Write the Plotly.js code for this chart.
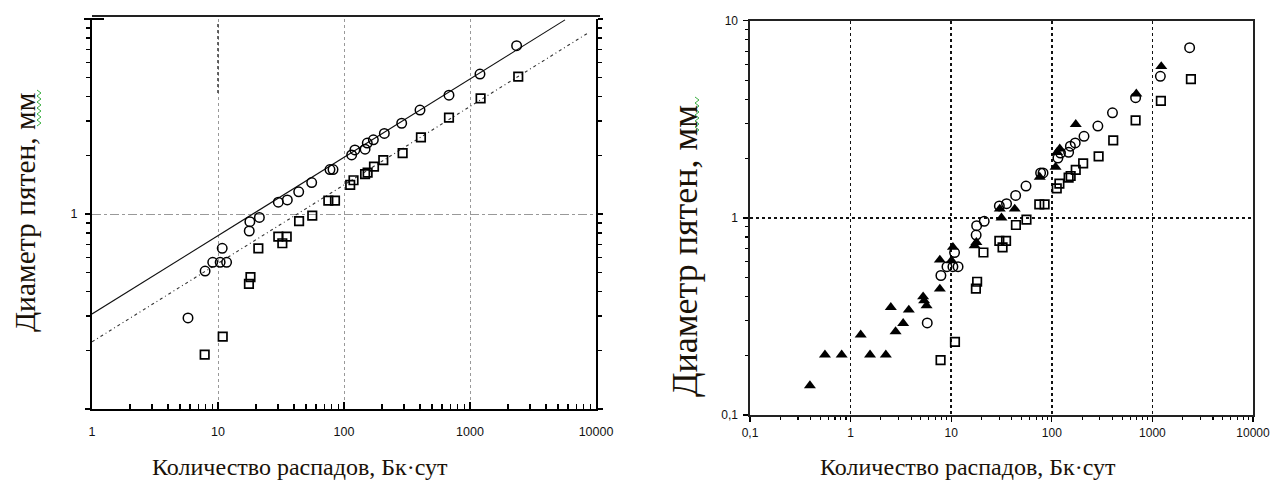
<!DOCTYPE html>
<html>
<head>
<meta charset="utf-8">
<script src="https://cdn.plot.ly/plotly-3.0.1.min.js"></script>
<style>
  html, body { margin: 0; padding: 0; background: #fff; }
  #chart { width: 1283px; height: 488px; }
</style>
</head>
<body>
<div id="chart"></div>
<script>
// ---- Data ----
// Series 1: open circles
const circX = [5.78, 7.9, 9.08, 10.4, 11.7, 10.8, 17.7, 17.9, 21.3, 30.1, 35.5, 43.7, 55.4, 77.4, 81.8, 115, 122, 147, 153, 171, 209, 287, 401, 681, 1200, 2344];
const circY = [0.293, 0.51, 0.565, 0.565, 0.565, 0.667, 0.818, 0.913, 0.96, 1.15, 1.18, 1.30, 1.45, 1.69, 1.69, 2.01, 2.13, 2.15, 2.31, 2.40, 2.59, 2.92, 3.41, 4.07, 5.22, 7.3];
// Series 2: open squares
const sqX = [7.84, 10.9, 17.6, 18.1, 20.9, 30.1, 32.4, 35.1, 44, 56, 75.1, 84.8, 112, 119, 147, 154, 173, 205, 292, 408, 681, 1214, 2415];
const sqY = [0.19, 0.235, 0.438, 0.474, 0.667, 0.765, 0.708, 0.765, 0.92, 0.98, 1.17, 1.17, 1.41, 1.49, 1.60, 1.63, 1.75, 1.89, 2.05, 2.47, 3.12, 3.92, 5.06];
// Series 3: filled triangles (right chart only)
const triX = [0.394, 0.556, 0.815, 1.26, 1.56, 2.24, 2.51, 2.80, 3.33, 3.79, 5.26, 5.38, 5.69, 7.71, 7.71, 10.07, 10.4, 17.1, 17.8, 30.4, 31.6, 42.8, 75.9, 109, 113, 120, 173, 692, 1225];
const triY = [0.141, 0.202, 0.202, 0.255, 0.202, 0.202, 0.352, 0.265, 0.292, 0.341, 0.398, 0.38, 0.359, 0.436, 0.612, 0.607, 0.71, 0.723, 0.752, 1.11, 1.0, 1.11, 1.61, 1.81, 2.15, 2.24, 2.98, 4.26, 5.86];
// Fitted lines (left chart), end points
const fitSolidX = [1, 5675];
const fitSolidY = [0.307, 9.9];
const fitDashX = [1, 8650];
const fitDashY = [0.221, 8.48];
// Tick labels
const xTickValsL = [1, 10, 100, 1000, 10000];
const xTickTextL = ['1', '10', '100', '1000', '10000'];
const yTickValsL = [0.1, 1, 10];
const yTickTextL = ['', '1', ''];
const xTickValsR = [0.1, 1, 10, 100, 1000, 10000];
const xTickTextR = ['0,1', '1', '10', '100', '1000', '10000'];
const yTickValsR = [0.1, 1, 10];
const yTickTextR = ['0,1', '1', '10'];
const xTitle = 'Количество распадов, Бк·сут';
const yTitle = 'Диаметр пятен, мм';

const W = 1283, H = 488;
const px = x => x / W;
const py = y => 1 - y / H;

const circMarker = {symbol: 'circle-open', size: 9.5, color: '#000', line: {width: 1.5, color: '#000'}};
const sqMarker = {symbol: 'square-open', size: 8.5, color: '#000', line: {width: 1.7, color: '#000'}};

const traces = [
  {x: fitSolidX, y: fitSolidY, xaxis: 'x', yaxis: 'y', mode: 'lines', line: {color: '#111', width: 1.1}, hoverinfo: 'skip'},
  {x: fitDashX, y: fitDashY, xaxis: 'x', yaxis: 'y', mode: 'lines', line: {color: '#333', width: 1.1, dash: '3px,3px,1px,3px'}, hoverinfo: 'skip'},
  {x: circX, y: circY, xaxis: 'x', yaxis: 'y', mode: 'markers', marker: circMarker},
  {x: sqX, y: sqY, xaxis: 'x', yaxis: 'y', mode: 'markers', marker: sqMarker},
  {x: circX, y: circY, xaxis: 'x2', yaxis: 'y2', mode: 'markers', marker: circMarker},
  {x: sqX, y: sqY, xaxis: 'x2', yaxis: 'y2', mode: 'markers', marker: sqMarker},
  {x: triX, y: triY, xaxis: 'x2', yaxis: 'y2', mode: 'markers', marker: {symbol: 'triangle-up', size: 10.5, color: '#000', line: {width: 0}}}
];

const tickFontL = {family: 'Liberation Sans, Arial, sans-serif', size: 12.5, color: '#111'};
const tickFontR = {family: 'Liberation Sans, Arial, sans-serif', size: 12, color: '#111'};
const serif = 'Liberation Serif, Times New Roman, serif';
const titleColor = '#1a1208';

const layout = {
  width: W, height: H,
  margin: {l: 0, r: 0, t: 0, b: 0},
  paper_bgcolor: '#fff', plot_bgcolor: 'rgba(0,0,0,0)',
  showlegend: false,
  xaxis: {
    domain: [px(92), px(596)], anchor: 'y', type: 'log', range: [0, 4],
    tickmode: 'array', tickvals: xTickValsL, ticktext: xTickTextL,
    ticks: 'inside', ticklen: 7, tickwidth: 1.5, tickcolor: '#000',
    minor: {ticks: 'inside', ticklen: 5, tickwidth: 1.3, tickcolor: '#000', dtick: 'D1', showgrid: false},
    showline: true, linecolor: '#000', linewidth: 2, mirror: false,
    showgrid: true, gridcolor: '#999', gridwidth: 1, griddash: 'dot',
    zeroline: false, tickfont: tickFontL, ticklabelstandoff: 10
  },
  yaxis: {
    domain: [py(409), py(19)], anchor: 'x', type: 'log', range: [-1, 1],
    tickmode: 'array', tickvals: yTickValsL, ticktext: yTickTextL,
    ticks: 'outside', ticklen: 5, tickwidth: 1.5, tickcolor: '#000',
    minor: {ticks: 'outside', ticklen: 4, tickwidth: 1.3, tickcolor: '#000', dtick: 'D1', showgrid: false},
    showline: true, linecolor: '#000', linewidth: 2, mirror: 'ticks',
    showgrid: true, gridcolor: '#999', gridwidth: 1, griddash: 'dashdot',
    zeroline: false, tickfont: tickFontL, ticklabelstandoff: 5
  },
  xaxis2: {
    domain: [px(750), px(1253)], anchor: 'y2', type: 'log', range: [-1, 4],
    tickmode: 'array', tickvals: xTickValsR, ticktext: xTickTextR,
    ticks: 'outside', ticklen: 5, tickwidth: 1.3, tickcolor: '#000',
    minor: {ticks: 'outside', ticklen: 3, tickwidth: 1.1, tickcolor: '#000', dtick: 'D1', showgrid: false},
    showline: true, linecolor: '#222', linewidth: 1.6, mirror: true,
    showgrid: true, gridcolor: '#111', gridwidth: 1.5, griddash: 'dot',
    zeroline: false, tickfont: tickFontR, ticklabelstandoff: 1
  },
  yaxis2: {
    domain: [py(415), py(20.7)], anchor: 'x2', type: 'log', range: [-1, 1],
    tickmode: 'array', tickvals: yTickValsR, ticktext: yTickTextR,
    ticks: 'outside', ticklen: 5, tickwidth: 1.3, tickcolor: '#000',
    minor: {ticks: 'outside', ticklen: 3, tickwidth: 1.1, tickcolor: '#000', dtick: 'D1', showgrid: false},
    showline: true, linecolor: '#222', linewidth: 1.6, mirror: true,
    showgrid: true, gridcolor: '#111', gridwidth: 1.5, griddash: 'dot',
    zeroline: false, tickfont: tickFontR, ticklabelstandoff: 3
  },
  shapes: [
    {type: 'line', xref: 'paper', yref: 'paper', x0: px(92), x1: px(600), y0: py(16), y1: py(16), line: {color: '#222', width: 2}},
    {type: 'line', xref: 'paper', yref: 'paper', x0: px(84), x1: px(104), y0: py(19), y1: py(19), line: {color: '#000', width: 2}},
    // darker upper segment of the x=10 grid line in the left chart
    {type: 'line', xref: 'paper', yref: 'paper', x0: px(218), x1: px(218), y0: py(93), y1: py(21), line: {color: '#444', width: 1.6, dash: 'dot'}}
  ],
  annotations: [
    {text: xTitle, xref: 'paper', yref: 'paper', x: px(300), y: py(467), xanchor: 'center', yanchor: 'middle', showarrow: false,
     font: {family: serif, size: 24, color: titleColor}},
    {text: xTitle, xref: 'paper', yref: 'paper', x: px(968), y: py(467), xanchor: 'center', yanchor: 'middle', showarrow: false,
     font: {family: serif, size: 24, color: titleColor}},
    {text: yTitle, xref: 'paper', yref: 'paper', x: px(25), y: py(213), xanchor: 'center', yanchor: 'middle', showarrow: false, textangle: -90,
     font: {family: serif, size: 29.5, color: titleColor}},
    {text: yTitle, xref: 'paper', yref: 'paper', x: px(685), y: py(251), xanchor: 'center', yanchor: 'middle', showarrow: false, textangle: -90,
     font: {family: serif, size: 36, color: titleColor}}
  ]
};

// green wavy spell-check underline decoration beside "мм"
function wavy(xc, y0, y1) {
  let d = '';
  const step = 3; let i = 0;
  for (let y = y0; y <= y1; y += step, i++) {
    const x = xc + (i % 2 ? 2 : -2);
    d += (i === 0 ? 'M' : 'L') + px(x).toFixed(5) + ',' + py(y).toFixed(5) + ' ';
  }
  return d;
}
layout.shapes.push({type: 'path', xref: 'paper', yref: 'paper', path: wavy(39, 90, 126), line: {color: '#3cb043', width: 1}});
layout.shapes.push({type: 'path', xref: 'paper', yref: 'paper', path: wavy(697, 97, 133), line: {color: '#3cb043', width: 1}});

Plotly.newPlot('chart', traces, layout, {displayModeBar: false, staticPlot: true});
</script>
</body>
</html>
